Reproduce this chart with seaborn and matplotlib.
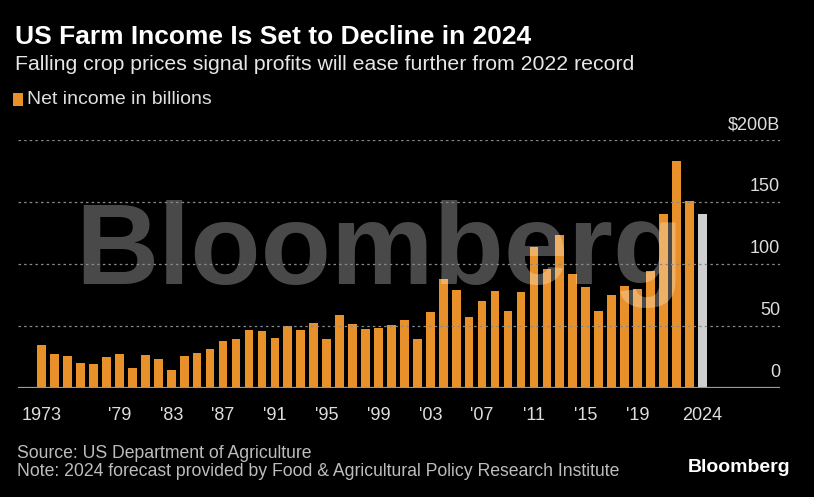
import matplotlib
matplotlib.use("Agg")
import matplotlib.pyplot as plt
import matplotlib.transforms as mtransforms
from matplotlib.patches import Rectangle
import seaborn as sns
import pandas as pd

# Data
years = list(range(1973, 2025))
income = [34.4, 27.2, 25.5, 20.2, 19.6, 25.3, 27.4, 16.1, 26.9, 23.7,
          14.2, 26.1, 28.5, 31.2, 37.9, 39.5, 46.5, 46.2, 40.3, 50.0,
          46.8, 52.7, 39.8, 59.1, 51.6, 47.3, 48.1, 50.8, 55.1, 39.2,
          61.3, 87.6, 79.0, 57.5, 70.2, 78.0, 62.4, 77.2, 113.7, 96.2,
          123.4, 92.2, 81.7, 62.4, 75.3, 82.0, 79.8, 94.6, 140.6, 183.1,
          151.1, 140.3]
kind = ["actual"] * 51 + ["forecast"]
tick_years = [1973, 1979, 1983, 1987, 1991, 1995, 1999, 2003, 2007, 2011, 2015, 2019, 2024]
tick_labels = ["1973", "'79", "'83", "'87", "'91", "'95", "'99", "'03", "'07", "'11", "'15", "'19", "2024"]
y_ticks = [0, 50, 100, 150, 200]
y_labels = ["0", "50", "100", "150", "$200B"]

orange = "#E8912A"
grey_bar = "#CFCFCF"

sns.set_style("dark")
plt.rcParams['font.family'] = ['Liberation Sans', 'DejaVu Sans']

df = pd.DataFrame({"year": [str(y) for y in years], "income": income, "kind": kind})

fig = plt.figure(figsize=(8.14, 4.97), dpi=100, facecolor="black")
ax = fig.add_axes([18 / 814, 109 / 497, (780 - 18) / 814, 248 / 497])
ax.set_facecolor("black")

sns.barplot(data=df, x="year", y="income", hue="kind",
            palette={"actual": orange, "forecast": grey_bar},
            dodge=False, width=0.67, saturation=1, legend=False,
            linewidth=0, edgecolor="none", ax=ax)

ax.set_xlim(-1.83, 57.0)
ax.set_ylim(0, 200)
ax.set_xlabel("")
ax.set_ylabel("")
for s in ax.spines.values():
    s.set_visible(False)

# grid + baseline
ax.set_axisbelow(False)
ax.set_yticks(y_ticks)
ax.set_yticklabels([])
ax.tick_params(axis="y", length=0)
ax.grid(axis="y", color="#8a8a8a", linestyle=(0, (2, 2.5)), linewidth=0.9)
ax.grid(axis="x", visible=False)
ax.axhline(0, color="#9a9a9a", linewidth=1.6, zorder=3)

tick_pos = [years.index(y) for y in tick_years]
ax.set_xticks(tick_pos)
ax.set_xticklabels(tick_labels, fontsize=13, color="#dedede")
ax.tick_params(axis="x", length=5, width=1, color="#9a9a9a", pad=9, direction="out")

# y labels sit above the gridlines on the right
trans = mtransforms.blended_transform_factory(ax.transAxes, ax.transData)
for v, lab in zip(y_ticks, y_labels):
    ax.annotate(lab, xy=(1.0, v), xycoords=trans, xytext=(0, 5), textcoords="offset points",
                ha="right", va="bottom", fontsize=13, color="#dedede")

# watermark
ax.text(379 / 814, 1 - 284 / 497, "Bloomberg", transform=fig.transFigure,
        ha="center", va="baseline", fontsize=83, fontweight="bold",
        color="white", alpha=0.29, zorder=2)

# titles
fig.text(15 / 814, 1 - 37 / 497, "US Farm Income Is Set to Decline in 2024",
         ha="left", va="center", fontsize=19, fontweight="bold", color="white")
fig.text(15 / 814, 1 - 65 / 497, "Falling crop prices signal profits will ease further from 2022 record",
         ha="left", va="center", fontsize=15.3, color="#e6e6e6")

# legend
fig.patches.append(Rectangle((13 / 814, 1 - 106 / 497), 10 / 814, 13 / 497,
                             transform=fig.transFigure, facecolor=orange, edgecolor="none"))
fig.text(27 / 814, 1 - 99 / 497, "Net income in billions",
         ha="left", va="center", fontsize=14, color="#dedede")

# footer
fig.text(17 / 814, 1 - 453 / 497, "Source: US Department of Agriculture",
         ha="left", va="center", fontsize=12.7, color="#bdbdbd")
fig.text(17 / 814, 1 - 471 / 497,
         "Note: 2024 forecast provided by Food & Agricultural Policy Research Institute",
         ha="left", va="center", fontsize=12.7, color="#bdbdbd")
fig.text(790 / 814, 1 - 467 / 497, "Bloomberg", ha="right", va="center",
         fontsize=14, fontweight="bold", color="white")

fig.savefig("out.png", dpi=100, facecolor="black")
